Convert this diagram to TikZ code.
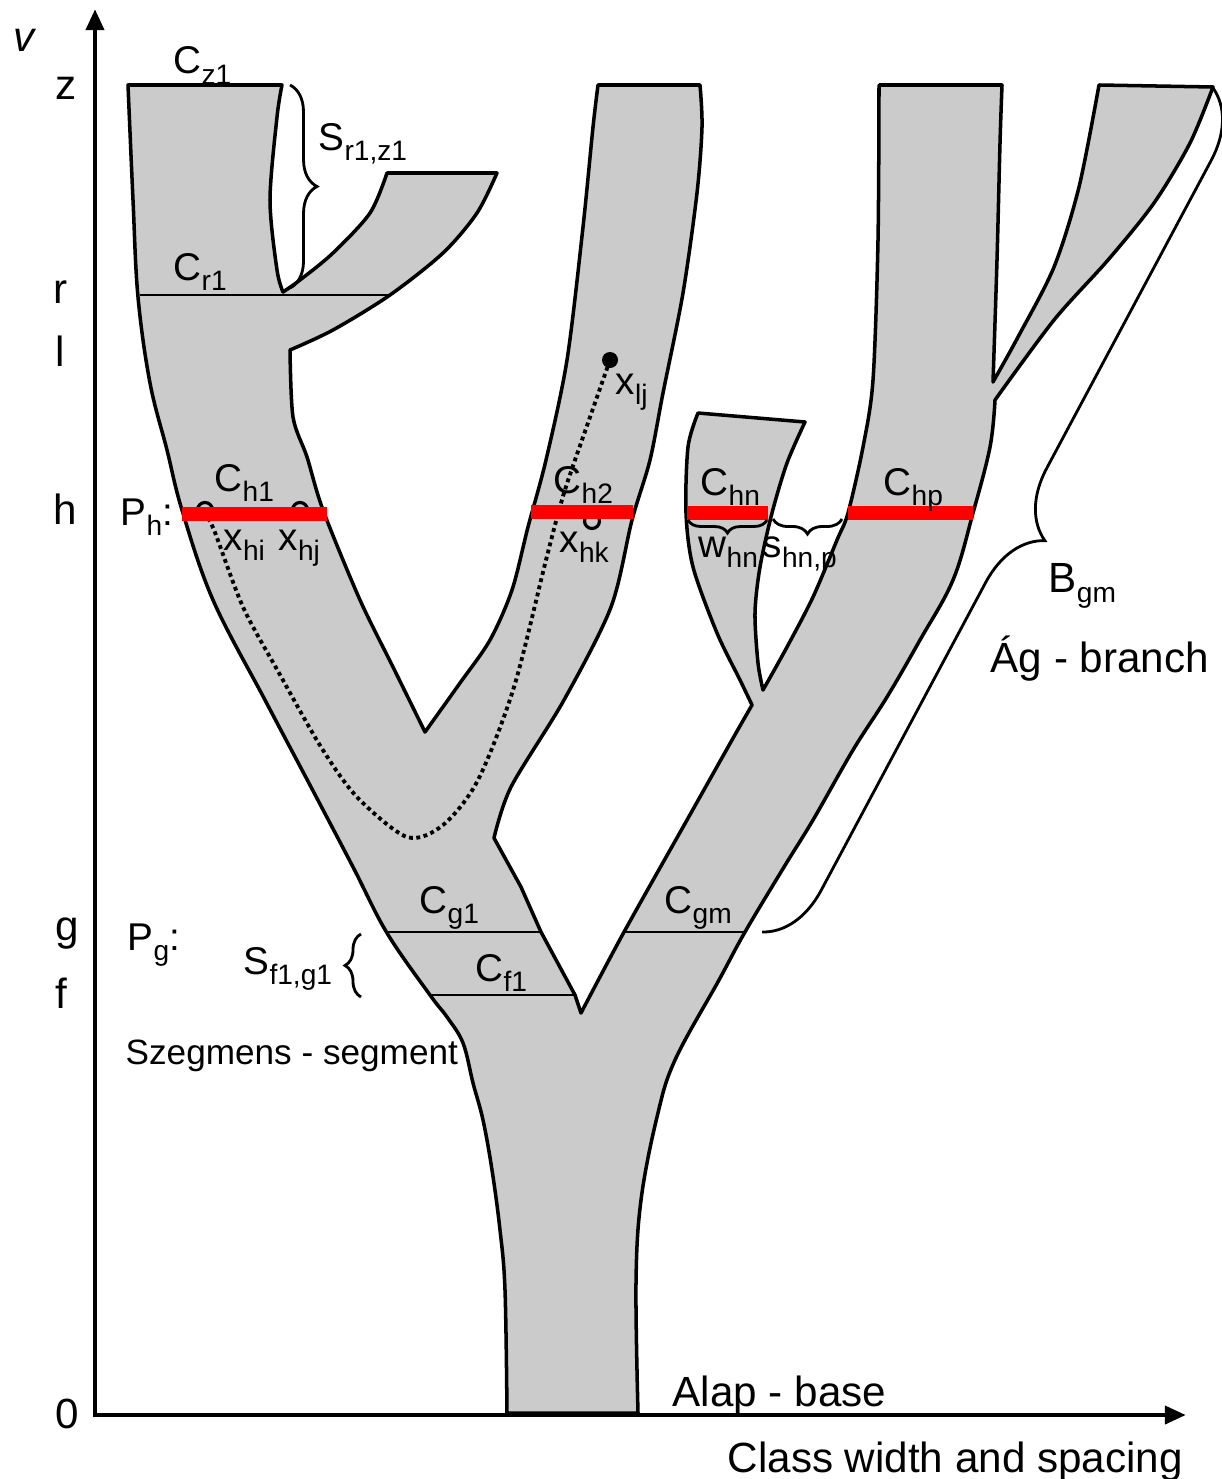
\documentclass[tikz,border=0pt]{standalone}
\usepackage{fontspec}
\setmainfont{Liberation Sans}
\usepackage{tikz}
\usetikzlibrary{arrows.meta, decorations.pathreplacing}
\definecolor{stemgray}{HTML}{CBCBCB}
\definecolor{cutred}{HTML}{FF0000}
\newcommand{\lsub}[1]{\raisebox{-3pt}{\fontsize{8}{9}\selectfont #1}}
\tikzset{
  tree/.style={fill=stemgray, draw=black, line width=1pt, line join=round},
  cut/.style={draw=black, line width=0.8pt},
  redcut/.style={draw=cutred, line width=4pt},
  ring/.style={circle, draw=black, line width=0.9pt, minimum size=0.15cm, inner sep=0pt},
  dotpath/.style={draw=black, line width=1.1pt, dash pattern=on 1.1pt off 1pt},
  brc/.style={draw=black, line width=0.8pt, decorate, decoration={brace, amplitude=#1}},
  axis/.style={draw=black, line width=1.4pt, {Triangle[length=6pt,width=5pt]}-{Triangle[length=6pt,width=5pt]}},
  lbl/.style={anchor=base west, inner sep=0pt, font=\fontsize{11}{13}\selectfont},
  axlbl/.style={anchor=base west, inner sep=0pt, font=\fontsize{12}{14}\selectfont}
}

\begin{document}
\begin{tikzpicture}[x=0.01cm, y=-0.01cm]
  \useasboundingbox (0,0) rectangle (1221,1479);

  % the tree outline
  \draw[tree] (507,1413)
    -- plot[smooth, tension=0.6] coordinates {(507,1413) (505,1290) (500,1230) (492,1170) (483,1120) (473,1083) (463,1043) (447,1017) (430,995) (387,933) (353,867) (311,787) (265,700) (213,600) (182,510) (167,450) (150,383) (138,297) (133,200) (128,85)}
    -- (282,85)
    -- plot[smooth] coordinates {(282,85) (277,117) (270,200) (277,270) (283,292)}
    -- plot[smooth] coordinates {(283,292) (300,280) (333,253) (370,213) (387,173)}
    -- (497,173)
    -- plot[smooth] coordinates {(497,173) (477,213) (443,253) (390,295) (333,330) (290,350)}
    -- plot[smooth] coordinates {(290,350) (293,417) (307,457) (323,510) (360,600) (393,667) (425,732)}
    -- plot[smooth] coordinates {(425,732) (460,683) (490,640) (512,590) (528,527) (546,460) (567,360) (583,227) (593,127) (598,85)}
    -- (700,85)
    -- plot[smooth] coordinates {(700,85) (702,127) (697,193) (683,293) (663,393) (650,460) (632,520) (611,607) (564,700) (511,787) (494,838)}
    -- (521,887) -- (541,932) -- (575,995) -- (581,1013)
    -- plot[smooth] coordinates {(581,1013) (624,932) (687,820) (732,740) (752,705)}
    -- plot[smooth] coordinates {(752,705) (740,680) (717,633) (693,567) (686,513) (688,447) (698,413)}
    -- (805,422)
    -- plot[smooth] coordinates {(805,422) (787,463) (772,513) (760,567) (755,613) (758,663) (763,690)}
    -- plot[smooth] coordinates {(763,690) (787,647) (813,597) (837,540) (848,513) (863,447) (873,380) (878,240) (879,85)}
    -- (1002,85)
    -- plot[smooth] coordinates {(1002,85) (1000,143) (997,260) (993,382)}
    -- plot[smooth] coordinates {(993,382) (1018,337) (1054,267) (1079,187) (1099,85)}
    -- (1213,87)
    -- plot[smooth] coordinates {(1213,87) (1190,143) (1154,203) (1108,260) (1054,320) (995,400)}
    -- plot[smooth, tension=0.6] coordinates {(995,400) (990,447) (973,513) (953,580) (920,640) (887,697) (853,750) (813,820) (784,867) (745,932) (719,980) (675,1060) (657,1117) (641,1200) (636,1283) (638,1413)}
    -- cycle;

  % cross sections
  \draw[cut] (140,295) -- (392,295);
  \draw[cut] (388,932) -- (542,932);
  \draw[cut] (430,995) -- (575,995);
  \draw[cut] (624,932) -- (745,932);

  % path between points
  \draw[dotpath] plot[smooth] coordinates {(204,512) (214,530) (243,607) (279,673) (321,747) (357,797) (407,837) (443,825) (478,780) (514,687) (546,560) (564,493) (589,420) (610,360)};
  \node[circle, fill=black, inner sep=0pt, minimum size=0.16cm] (xlj) at (610,360) {};
  \node[ring] (xhi) at (205,510) {};
  \node[ring] (xhj) at (300,510) {};
  \node[ring] (xhk) at (592,521) {};

  % level h
  \draw[redcut] (182,514) -- (327,514);
  \draw[redcut] (531,512) -- (633,512);
  \draw[redcut] (687,513) -- (768,513);
  \draw[redcut] (848,513) -- (973,513);

  % braces
  \draw[brc=0.27cm] (290,85) -- (290,288);
  \draw[brc=0.16cm] (361,997) -- (361,934);
  \draw[brc=0.13cm] (767,520) -- (688,520);
  \draw[brc=0.15cm] (842,519) -- (773,519);
  \draw[brc=0.65cm] (1213,88) -- (762,932);

  % axes
  \coordinate (vtop) at (95,9);
  \coordinate (orig) at (95,1415);
  \coordinate (xend) at (1186,1415);
  \draw[axis] (vtop) -- (orig) -- (xend);

  % axis labels
  \node[axlbl, font=\fontsize{12}{14}\selectfont\itshape] (vlab) at (13,52) {v};
  \node[axlbl] (zlab) at (55,100) {z};
  \node[axlbl] (rlab) at (53,304) {r};
  \node[axlbl] (llab) at (55,366) {l};
  \node[axlbl] (hlab) at (53,524) {h};
  \node[axlbl] (glab) at (55,940) {g};
  \node[axlbl] (flab) at (55,1008) {f};
  \node[axlbl] (olab) at (55,1428) {0};

  % labels
  \node[lbl] (cz1) at (173,74) {C\lsub{z1}};
  \node[lbl] (sr1) at (318,150) {S\lsub{r1,z1}};
  \node[lbl] (cr1) at (173,280) {C\lsub{r1}};
  \node[lbl] (ph) at (120,525) {P\lsub{h}:};
  \node[lbl] (ch1) at (214,491) {C\lsub{h1}};
  \node[lbl] (lxhi) at (223,550) {x\lsub{hi}};
  \node[lbl] (lxhj) at (278,550) {x\lsub{hj}};
  \node[lbl] (ch2) at (553,493) {C\lsub{h2}};
  \node[lbl] (lxhk) at (559,552) {x\lsub{hk}};
  \node[lbl] (lxlj) at (615,394) {x\lsub{lj}};
  \node[lbl] (chn) at (700,495) {C\lsub{hn}};
  \node[lbl] (chp) at (883,495) {C\lsub{hp}};
  \node[lbl] (whn) at (698,557) {w\lsub{hn}};
  \node[lbl] (shn) at (762,557) {s\lsub{hn,p}};
  \node[axlbl] (bgm) at (1048,592) {B\lsub{gm}};
  \node[axlbl] (branch) at (990,672) {Ág - branch};
  \node[lbl] (pg) at (127,950) {P\lsub{g}:};
  \node[lbl] (sf1) at (243,974) {S\lsub{f1,g1}};
  \node[lbl] (cg1) at (419,913) {C\lsub{g1}};
  \node[lbl] (cf1) at (475,981) {C\lsub{f1}};
  \node[lbl] (cgm) at (664,913) {C\lsub{gm}};
  \node[lbl, font=\fontsize{10}{12}\selectfont] (segm) at (125,1064) {Szegmens - segment};
  \node[axlbl] (base) at (672,1406) {Alap - base};
  \node[axlbl] (xlab) at (727,1472) {Class width and spacing};
\end{tikzpicture}
\end{document}
